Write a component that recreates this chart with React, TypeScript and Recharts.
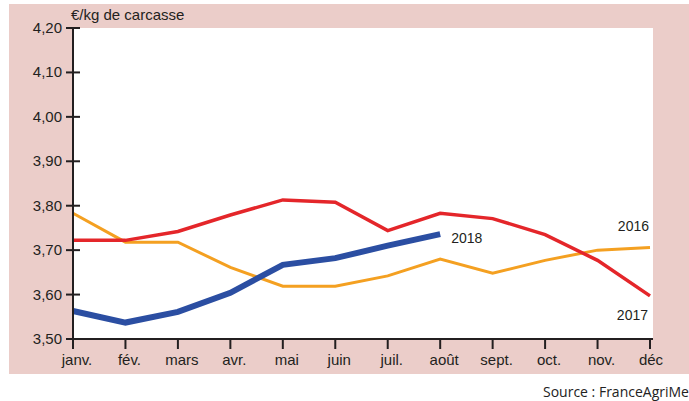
import React from 'react';
import { LineChart, Line, XAxis, YAxis, CartesianGrid, LabelList } from 'recharts';

const months = ['janv.', 'fév.', 'mars', 'avr.', 'mai', 'juin', 'juil.', 'août', 'sept.', 'oct.', 'nov.', 'déc'];
const s2016 = [3.783, 3.718, 3.718, 3.661, 3.619, 3.619, 3.642, 3.68, 3.648, 3.677, 3.7, 3.706];
const s2017 = [3.722, 3.722, 3.742, 3.779, 3.813, 3.808, 3.744, 3.783, 3.771, 3.735, 3.677, 3.597];
const s2018: (number | null)[] = [3.563, 3.537, 3.561, 3.604, 3.667, 3.682, 3.71, 3.736, null, null, null, null];
const yTicks = [3.5, 3.6, 3.7, 3.8, 3.9, 4.0, 4.1, 4.2];

const data = months.map((m, i) => ({ m, a: s2016[i], b: s2017[i], c: s2018[i] }));

const FONT = '"Liberation Sans", Arial, sans-serif';
const AXIS = '#231F20';

const YTick = (props: any) => {
  const { x, y, payload } = props;
  return (
    <g>
      <line x1={x - 7} x2={x + 7} y1={y} y2={y} stroke={AXIS} strokeWidth={2} />
      <text x={x - 11} y={y + 5} textAnchor="end" fontFamily={FONT} fontSize={15} fill={AXIS}>
        {Number(payload.value).toFixed(2).replace('.', ',')}
      </text>
    </g>
  );
};

const XTick = (props: any) => {
  const { x, y, payload, index } = props;
  const dx = index === months.length - 1 ? 1 : 4;
  return (
    <g>
      <line x1={x} x2={x} y1={y} y2={y + 10} stroke={AXIS} strokeWidth={2} />
      <text x={x + dx} y={y + 26} textAnchor="middle" fontFamily={FONT} fontSize={15} fill={AXIS}>
        {payload.value}
      </text>
    </g>
  );
};

const endLabel = (text: string, idx: number, dx: number, dy: number, anchor: string) => (props: any) => {
  if (props.index !== idx || props.x == null || props.y == null) return null;
  return (
    <text x={props.x + dx} y={props.y + dy} textAnchor={anchor} fontFamily={FONT} fontSize={14} fill={AXIS}>
      {text}
    </text>
  );
};

export default function App() {
  return (
    <div style={{ position: 'absolute', left: 0, top: 0, width: 689, height: 401, background: '#fff', overflow: 'hidden' }}>
      <div style={{ position: 'absolute', left: 9, top: 4, width: 680, height: 370, background: '#EBCDC9' }} />
      <div style={{ position: 'absolute', left: 71, top: 6, fontFamily: FONT, fontSize: 15, color: AXIS, whiteSpace: 'nowrap' }}>
        €/kg de carcasse
      </div>
      <div style={{ position: 'absolute', left: 543, top: 382, fontFamily: '"Open Sans", sans-serif', fontSize: 14, color: '#222', whiteSpace: 'nowrap' }}>
        Source : FranceAgriMer
      </div>
      <div style={{ position: 'absolute', left: 0, top: 0 }}>
        <LineChart width={689} height={401} data={data} margin={{ top: 28, right: 36, bottom: 32, left: 13 }}>
          <CartesianGrid horizontal={false} vertical={false} fill="#fff" stroke="none" />
          <XAxis
            dataKey="m"
            height={30}
            padding={{ left: 0, right: 3 }}
            axisLine={{ stroke: AXIS, strokeWidth: 2 }}
            tickLine={false}
            tickSize={0}
            tickMargin={0}
            tick={<XTick />}
            interval={0}
          />
          <YAxis
            width={60}
            domain={[3.5, 4.2]}
            ticks={yTicks}
            allowDataOverflow
            axisLine={{ stroke: AXIS, strokeWidth: 2 }}
            tickLine={false}
            tickSize={0}
            tickMargin={0}
            tick={<YTick />}
            interval={0}
          />
          <Line type="linear" dataKey="a" stroke="#F4A021" strokeWidth={3} dot={false} isAnimationActive={false}>
            <LabelList dataKey="a" content={endLabel('2016', 11, -1, -16, 'end')} />
          </Line>
          <Line type="linear" dataKey="b" stroke="#E4262A" strokeWidth={3.5} dot={false} isAnimationActive={false}>
            <LabelList dataKey="b" content={endLabel('2017', 11, -2, 24, 'end')} />
          </Line>
          <Line type="linear" dataKey="c" stroke="#2B4EA2" strokeWidth={6} dot={false} isAnimationActive={false} connectNulls={false}>
            <LabelList dataKey="c" content={endLabel('2018', 7, 11, 9, 'start')} />
          </Line>
        </LineChart>
      </div>
    </div>
  );
}
